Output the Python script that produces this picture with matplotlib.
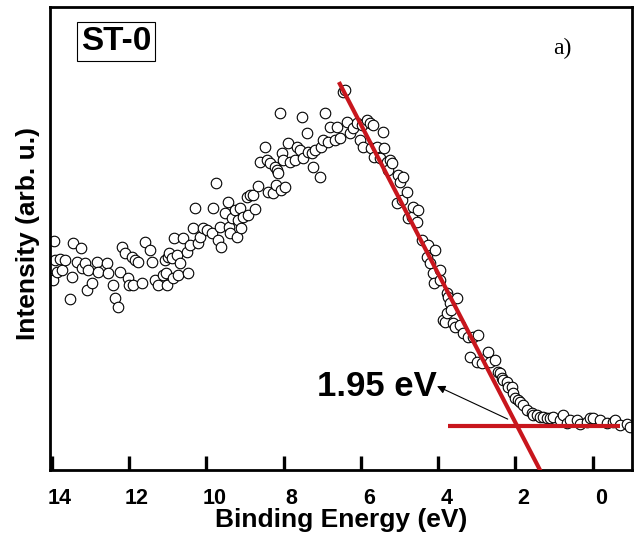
import numpy as np
import matplotlib
matplotlib.use('Agg')
import matplotlib.pyplot as plt
import matplotlib.transforms as mtransforms

#---    Data
binding_energy = [13.99, 13.96, 13.94, 13.91, 13.86, 13.78, 13.73, 13.65, 13.52, 13.47,
                  13.45, 13.34, 13.24, 13.21, 13.14, 13.09, 13.06, 12.96, 12.83, 12.80,
                  12.57, 12.54, 12.41, 12.36, 12.28, 12.23, 12.18, 12.10, 12.02, 11.99,
                  11.92, 11.90, 11.84, 11.77, 11.66, 11.59, 11.46, 11.41, 11.33, 11.25,
                  11.12, 11.07, 11.04, 11.02, 10.99, 10.97, 10.89, 10.86, 10.84, 10.76,
                  10.74, 10.68, 10.60, 10.50, 10.48, 10.42, 10.34, 10.29, 10.21, 10.16,
                  10.09, 9.98, 9.85, 9.83, 9.75, 9.69, 9.65, 9.63, 9.52, 9.44,
                  9.42, 9.39, 9.34, 9.26, 9.21, 9.18, 9.13, 9.11, 9.05, 8.95,
                  8.92, 8.87, 8.79, 8.74, 8.66, 8.61, 8.48, 8.43, 8.41, 8.35,
                  8.28, 8.22, 8.20, 8.17, 8.15, 8.09, 8.07, 8.04, 8.02, 7.96,
                  7.89, 7.84, 7.71, 7.65, 7.58, 7.53, 7.50, 7.40, 7.38, 7.27,
                  7.25, 7.19, 7.06, 7.04, 6.98, 6.93, 6.85, 6.80, 6.67, 6.62,
                  6.54, 6.47, 6.41, 6.36, 6.28, 6.21, 6.10, 6.03, 5.97, 5.95,
                  5.84, 5.77, 5.75, 5.69, 5.67, 5.59, 5.51, 5.43, 5.41, 5.33,
                  5.31, 5.25, 5.20, 5.07, 5.04, 4.99, 4.94, 4.91, 4.81, 4.78,
                  4.68, 4.65, 4.55, 4.53, 4.42, 4.29, 4.27, 4.22, 4.14, 4.12,
                  4.09, 3.96, 3.94, 3.88, 3.83, 3.78, 3.76, 3.75, 3.70, 3.68,
                  3.62, 3.57, 3.52, 3.44, 3.36, 3.23, 3.18, 3.10, 3.00, 2.97,
                  2.87, 2.74, 2.72, 2.66, 2.53, 2.46, 2.40, 2.35, 2.33, 2.22,
                  2.20, 2.09, 2.07, 2.02, 1.94, 1.89, 1.81, 1.71, 1.58, 1.55,
                  1.45, 1.37, 1.29, 1.19, 1.11, 1.03, 0.85, 0.78, 0.67, 0.59,
                  0.41, 0.34, 0.16, 0.08, 0.00, -0.18, -0.36, -0.52, -0.57, -0.70,
                  -0.88, -0.96]
intensity = [192, 190, 229, 210, 198, 211, 200, 210, 171, 193,
             227, 208, 222, 202, 207, 180, 200, 187, 208, 198,
             207, 197, 185, 172, 163, 198, 223, 217, 192, 185,
             213, 185, 210, 208, 187, 228, 220, 208, 190, 185,
             195, 210, 197, 185, 213, 217, 212, 192, 232, 215,
             195, 207, 232, 218, 197, 225, 242, 262, 227, 233,
             242, 240, 237, 262, 287, 230, 243, 223, 257, 268,
             243, 237, 252, 260, 233, 250, 262, 242, 253, 273,
             255, 275, 275, 261, 284, 308, 323, 310, 278, 307,
             277, 303, 285, 300, 297, 357, 280, 317, 310, 283,
             327, 308, 310, 323, 320, 353, 312, 337, 318, 317,
             303, 320, 293, 323, 330, 357, 328, 343, 330, 343,
             332, 378, 380, 348, 337, 342, 347, 330, 345, 323,
             350, 347, 322, 345, 313, 323, 312, 338, 322, 308,
             300, 310, 307, 267, 295, 288, 270, 293, 278, 252,
             253, 263, 248, 260, 230, 213, 225, 207, 197, 187,
             220, 200, 190, 150, 148, 177, 157, 173, 167, 160,
             147, 143, 172, 145, 137, 133, 113, 133, 108, 135,
             107, 113, 118, 108, 110, 98, 97, 92, 90, 88,
             83, 83, 77, 72, 70, 68, 65, 60, 57, 55,
             55, 53, 53, 52, 52, 53, 50, 55, 47, 50,
             50, 46, 48, 52, 52, 50, 47, 48, 50, 45,
             46, 43]

# tangent fit and background line
fit_x = [6.57, 1.35]
fit_y = [388, -1]
base_x = [3.75, -0.70]
base_y = [44, 44]
onset = 1.95
x_ticks = [14, 12, 10, 8, 6, 4, 2, 0]

#---    Graph
plt.rcParams['font.family'] = ['Liberation Sans', 'DejaVu Sans']
plt.rcParams['font.weight'] = 'bold'

fig = plt.figure(figsize=(6.44, 5.41), dpi=100)
ax = fig.add_axes([0.078, 0.131, 0.903, 0.856])

ax.plot(binding_energy, intensity, linestyle='none', marker='o', markersize=7.6,
        markerfacecolor='white', markeredgecolor='black', markeredgewidth=0.8, zorder=2)
ax.plot(fit_x, fit_y, color='#c8161d', linewidth=3, solid_capstyle='butt', zorder=3)
ax.plot(base_x, base_y, color='#c8161d', linewidth=3, solid_capstyle='butt', zorder=3)

ax.text(4.03, 84, f'{onset} eV', fontsize=25, fontweight='bold', ha='right', va='center', zorder=4)
# arrow points from the onset to the label
ax.annotate('', xy=(4.03, 84), xytext=(2.20, 51),
            arrowprops=dict(arrowstyle='-|>', color='black', lw=0.8,
                            mutation_scale=12, shrinkA=0, shrinkB=0))

ax.text(0.113, 0.925, 'ST-0', transform=ax.transAxes, fontsize=24, fontweight='bold',
        ha='center', va='center',
        bbox=dict(boxstyle='square,pad=0.12', facecolor='white', edgecolor='black', linewidth=0.8))
ax.text(0.88, 0.91, 'a)', transform=ax.transAxes, fontsize=17, fontweight='normal',
        family='Liberation Serif', ha='center', va='center')

ax.set_xlim(14.04, -1.01)
ax.set_ylim(0, 463)
ax.set_xticks(x_ticks)
ax.set_yticks([])
ax.tick_params(axis='x', direction='in', length=10, width=2.4, labelsize=15.5, pad=13)
# tick labels sit a little right of their ticks in the original
shift = mtransforms.ScaledTranslation(0.08, 0, fig.dpi_scale_trans)
for lab in ax.get_xticklabels():
    lab.set_fontweight('bold')
    lab.set_transform(lab.get_transform() + shift)
for s in ax.spines.values():
    s.set_linewidth(2)

ax.set_xlabel('Binding Energy (eV)', fontsize=19, fontweight='bold', labelpad=-1)
ax.set_ylabel('Intensity (arb. u.)', fontsize=19, fontweight='bold', labelpad=8)
ax.yaxis.set_label_coords(-0.017, 0.512)

plt.savefig('out.png', dpi=100)
